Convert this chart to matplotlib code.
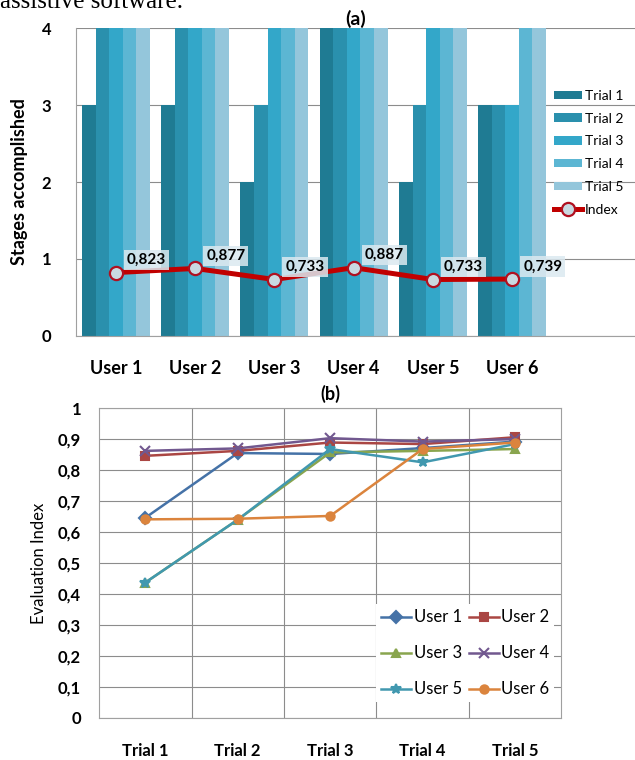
import numpy as np
import matplotlib
matplotlib.use("Agg")
import matplotlib.pyplot as plt

plt.rcParams['font.family'] = ['Lato', 'DejaVu Sans']

# panel (a) data
users = ['User 1', 'User 2', 'User 3', 'User 4', 'User 5', 'User 6']
trial_names = ['Trial 1', 'Trial 2', 'Trial 3', 'Trial 4', 'Trial 5']
stages = [
    [3, 3, 2, 4, 2, 3],   # Trial 1
    [4, 4, 3, 4, 3, 3],   # Trial 2
    [4, 4, 4, 4, 4, 3],   # Trial 3
    [4, 4, 4, 4, 4, 4],   # Trial 4
    [4, 4, 4, 4, 4, 4],   # Trial 5
]
index_vals = [0.823, 0.877, 0.733, 0.887, 0.733, 0.739]
bar_colors = ['#1f7b93', '#2a90ad', '#33a7c9', '#5cb6d3', '#94c6db']

# panel (b) data
trials = ['Trial 1', 'Trial 2', 'Trial 3', 'Trial 4', 'Trial 5']
eval_user1 = [0.646, 0.855, 0.852, 0.871, 0.892]
eval_user2 = [0.846, 0.862, 0.889, 0.884, 0.906]
eval_user3 = [0.437, 0.640, 0.857, 0.862, 0.868]
eval_user4 = [0.862, 0.870, 0.903, 0.892, 0.900]
eval_user5 = [0.437, 0.640, 0.868, 0.825, 0.884]
eval_user6 = [0.641, 0.643, 0.652, 0.868, 0.889]
line_colors = ['#4572A7', '#AA4643', '#89A54E', '#71588F', '#4198AF', '#DB843D']
line_markers = ['D', 's', '^', 'x', '*', 'o']

fig = plt.figure(figsize=(6.35, 7.6), dpi=100)
fig.text(0.0, 0.998, 'assistive software.', family='Liberation Serif',
         fontsize=18, ha='left', va='center')

# ---- (a) bars + index line
ax = fig.add_axes([0.12, 0.558, 0.88, 0.405])
x = np.arange(len(users))
w = 0.171
handles_a = []
for i, vals in enumerate(stages):
    b = ax.bar(x + (i - 2) * w, vals, w, color=bar_colors[i], label=trial_names[i],
               zorder=2, linewidth=0)
    handles_a.append(b)
ln, = ax.plot(x, index_vals, color='#c00000', lw=3.6, marker='o', ms=9.5,
              mfc='#c9d9e1', mec='#b01020', mew=1.6, zorder=4, label='Index')
handles_a.append(ln)
for xi, v in zip(x, index_vals):
    ax.annotate(f'{v:.3f}'.replace('.', ','), (xi, v), xytext=(8, 4),
                textcoords='offset points', ha='left', va='bottom',
                fontsize=11, fontweight='bold', zorder=5,
                bbox=dict(boxstyle='square,pad=0.2', fc='#dbe9f0', ec='none', alpha=0.85))
ax.set_xlim(-0.5, 6.55)
ax.set_ylim(0, 4)
ax.set_yticks(range(5))
ax.set_yticklabels([str(i) for i in range(5)], fontsize=12, fontweight='bold')
ax.set_xticks(x)
ax.set_xticklabels(users, fontsize=13, fontweight='bold')
ax.tick_params(axis='x', length=0, pad=17)
ax.tick_params(axis='y', length=0, pad=18)
ax.grid(axis='y', color='#8c8c8c', lw=0.8, zorder=0)
for s in ['top', 'right']:
    ax.spines[s].set_visible(False)
for s in ['left', 'bottom']:
    ax.spines[s].set_color('#a0a0a0')
ax.set_ylabel('Stages accomplished', fontsize=13, fontweight='bold', labelpad=10)
ax.set_title('(a)', fontsize=14, fontweight='bold', pad=2)
ax.legend(handles_a, trial_names + ['Index'], loc='upper left',
          bbox_to_anchor=(0.855, 0.80), frameon=False,
          fontsize=10, handlelength=2.0, handleheight=0.55, labelspacing=0.78,
          handletextpad=0.2, borderaxespad=0, borderpad=0)

# ---- (b) evaluation index lines
bx = fig.add_axes([0.156, 0.0553, 0.728, 0.4077])
series = [eval_user1, eval_user2, eval_user3, eval_user4, eval_user5, eval_user6]
tx = np.arange(len(trials))
handles = []
for k, vals in enumerate(series):
    m = line_markers[k]
    ms = 7 if m in ('x', '*') else 6
    h, = bx.plot(tx, vals, color=line_colors[k], lw=1.8, marker=m, ms=ms,
                 mew=1.5, label=f'User {k + 1}', zorder=3)
    handles.append(h)
bx.set_xlim(-0.5, 4.5)
bx.set_ylim(0, 1)
yt = np.round(np.arange(0, 1.01, 0.1), 1)
bx.set_yticks(yt)
bx.set_yticklabels(['0' if v == 0 else ('1' if v == 1 else f'{v:.1f}'.replace('.', ','))
                    for v in yt], fontsize=12, fontweight='bold')
bx.set_xticks(tx)
bx.set_xticklabels(trials, fontsize=12, fontweight='bold')
bx.set_xticks(np.arange(0.5, 4.5, 1), minor=True)
bx.tick_params(axis='x', which='both', length=0, pad=18)
bx.tick_params(axis='y', length=0, pad=13)
bx.grid(axis='y', color='#8c8c8c', lw=0.8, zorder=0)
bx.grid(axis='x', which='minor', color='#8c8c8c', lw=0.8, zorder=0)
for s in bx.spines.values():
    s.set_color('#a0a0a0')
bx.set_ylabel('Evaluation Index', fontsize=12, labelpad=8)
bx.set_title('(b)', fontsize=13, fontweight='bold', pad=6)
order = [0, 2, 4, 1, 3, 5]
leg = bx.legend([handles[i] for i in order], [handles[i].get_label() for i in order],
                ncol=2, loc='lower right', bbox_to_anchor=(0.985, 0.05), fontsize=12,
                frameon=True, fancybox=False, edgecolor='none', facecolor='white',
                framealpha=1, handlelength=1.8, handletextpad=0.15, columnspacing=0.4,
                labelspacing=1.2, borderaxespad=0, borderpad=0.3)
leg.set_zorder(5)

fig.savefig('out.png', dpi=100)
